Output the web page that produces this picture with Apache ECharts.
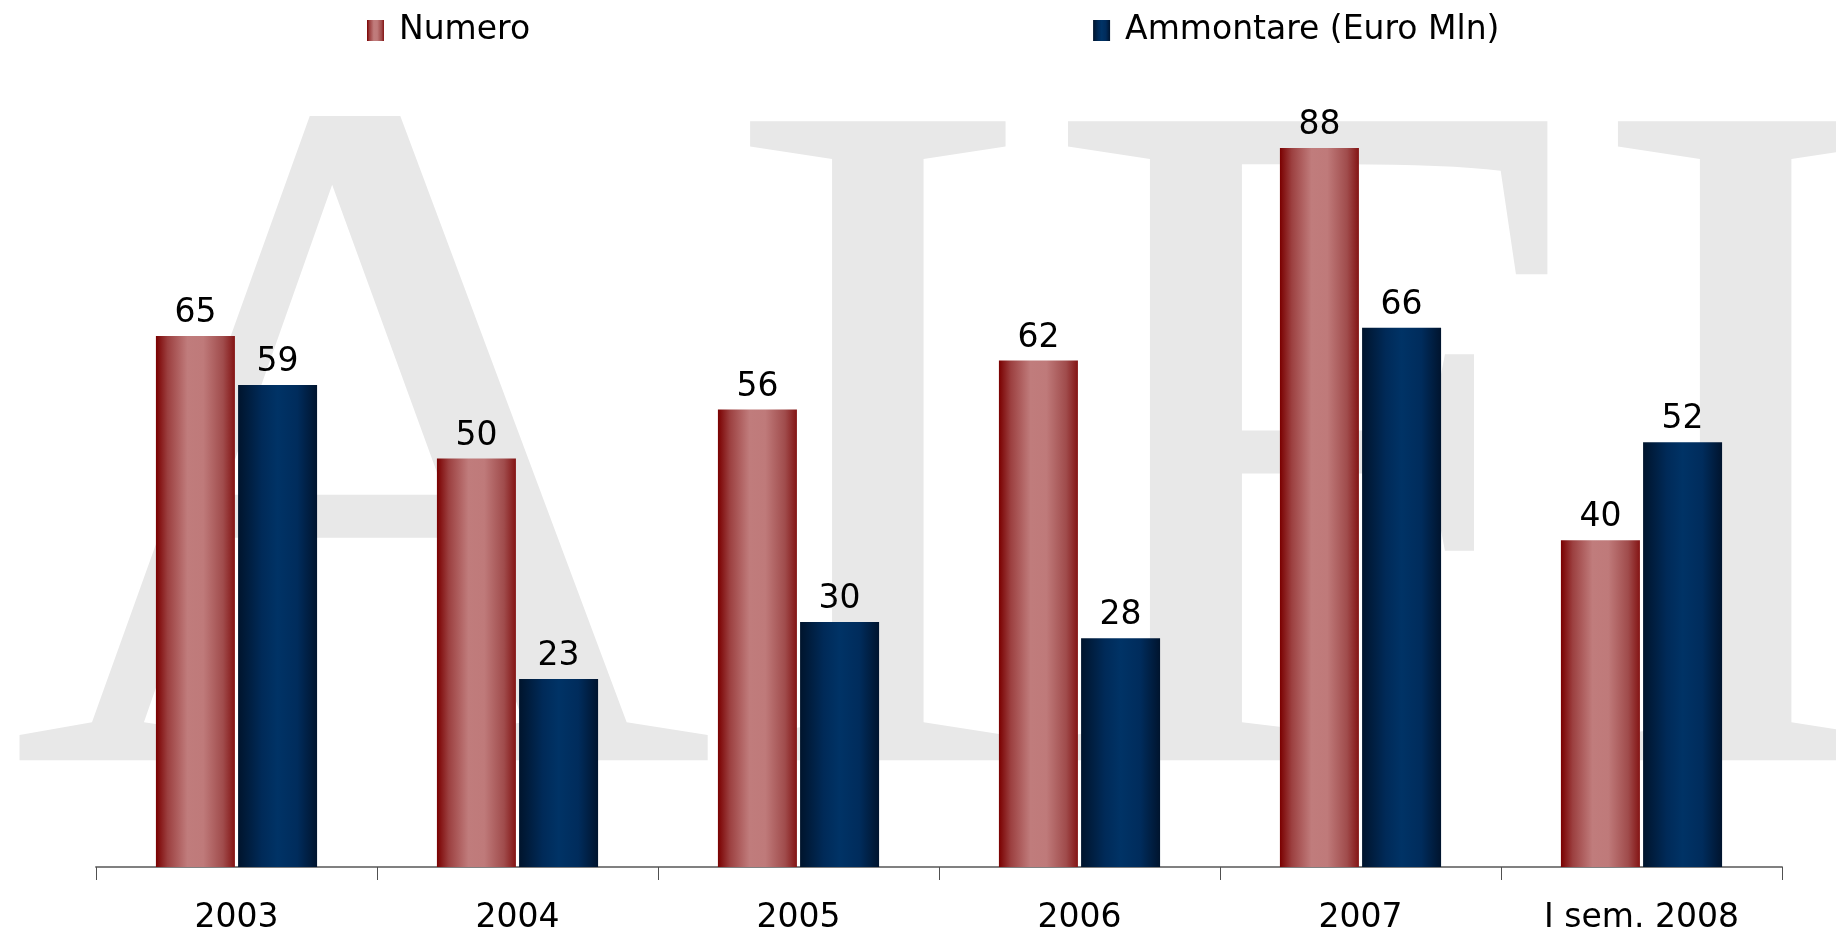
<!DOCTYPE html>
<html>
<head>
<meta charset="utf-8">
<script src="https://cdn.jsdelivr.net/npm/echarts@6/dist/echarts.min.js"></script>
<style>
  html, body { margin: 0; padding: 0; background: #fff; }
  #chart { width: 1836px; height: 935px; }
</style>
</head>
<body>
<div id="chart"></div>
<script>
var periods = ["2003", "2004", "2005", "2006", "2007", "I sem. 2008"];
var numero = [65, 50, 56, 62, 88, 40];
var ammontare = [59, 23, 30, 28, 66, 52];
var seriesNames = ["Numero", "Ammontare (Euro Mln)"];

var myChart = echarts.init(document.getElementById("chart"));

// cylinder-like shading, left to right
var redFill = new echarts.graphic.LinearGradient(0, 0, 1, 0, [
  { offset: 0, color: "#7a0000" },
  { offset: 0.15, color: "#9c4040" },
  { offset: 0.4, color: "#c07c7c" },
  { offset: 0.6, color: "#bf7a7a" },
  { offset: 0.85, color: "#a04c4c" },
  { offset: 1, color: "#841414" }
]);
var blueFill = new echarts.graphic.LinearGradient(0, 0, 1, 0, [
  { offset: 0, color: "#00142c" },
  { offset: 0.3, color: "#002a58" },
  { offset: 0.5, color: "#003366" },
  { offset: 0.75, color: "#002c5c" },
  { offset: 1, color: "#00142e" }
]);

var labelStyle = {
  show: true,
  position: "top",
  distance: 6,
  color: "#000",
  fontFamily: "DejaVu Sans",
  fontSize: 33
};

var option = {
  animation: false,
  graphic: [
    {
      type: "text",
      z: -10,
      silent: true,
      x: 10,
      y: 504,
      style: {
        text: "AIFI",
        font: "976px 'Liberation Serif'",
        fill: "#e8e8e8",
        textVerticalAlign: "middle"
      }
    }
  ],
  legend: {
    data: seriesNames,
    left: 362,
    top: 9,
    itemWidth: 17,
    itemHeight: 21,
    itemGap: 563,
    icon: "rect",
    textStyle: {
      color: "#000",
      fontFamily: "DejaVu Sans",
      fontSize: 33,
      padding: [0, 0, 0, 10]
    }
  },
  grid: {
    left: 96,
    right: 54,
    top: 50,
    bottom: 65
  },
  xAxis: {
    type: "category",
    data: periods,
    axisLine: { lineStyle: { color: "#808080", width: 2 } },
    axisTick: { show: true, length: 13, lineStyle: { color: "#505050", width: 1 } },
    axisLabel: {
      color: "#000",
      fontFamily: "DejaVu Sans",
      fontSize: 33,
      margin: 35
    }
  },
  yAxis: {
    type: "value",
    min: 0,
    max: 100,
    show: false,
    splitLine: { show: false }
  },
  series: [
    {
      name: seriesNames[0],
      type: "bar",
      data: numero,
      barWidth: 79,
      barGap: "4%",
      itemStyle: { color: redFill },
      label: labelStyle
    },
    {
      name: seriesNames[1],
      type: "bar",
      data: ammontare,
      barWidth: 79,
      barGap: "4%",
      itemStyle: { color: blueFill },
      label: labelStyle
    }
  ]
};

myChart.setOption(option);
</script>
</body>
</html>
